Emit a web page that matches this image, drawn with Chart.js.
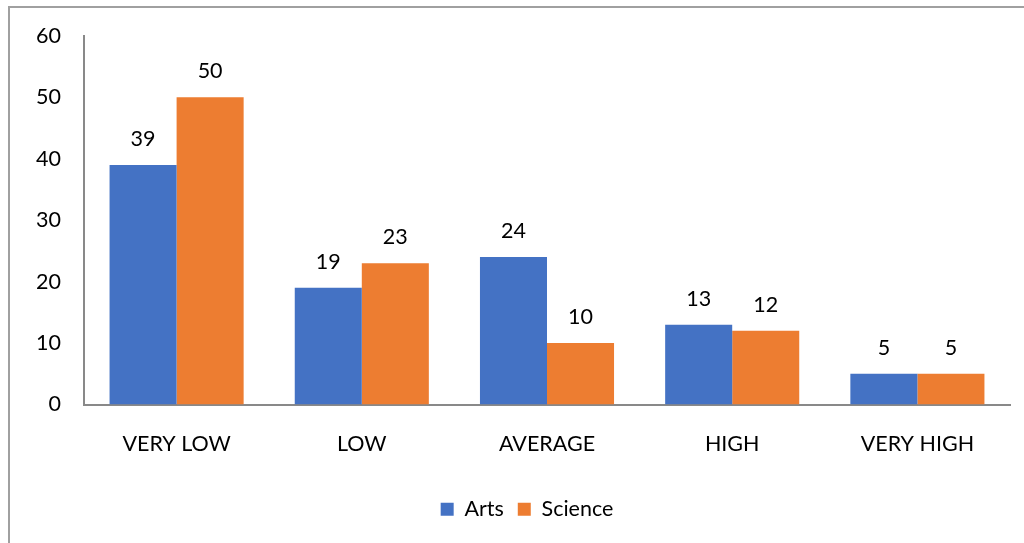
<!DOCTYPE html>
<html><head><meta charset="utf-8">
<script src="https://cdn.jsdelivr.net/npm/chart.js@4"></script>
<style>html,body{margin:0;padding:0;background:#fff}#wrap{width:1024px;height:543px;position:relative}</style>
</head><body><div id="wrap"><canvas id="c"></canvas></div>
<script>
const categories = ["VERY LOW", "LOW", "AVERAGE", "HIGH", "VERY HIGH"];
const artsValues = [39, 19, 24, 13, 5];
const scienceValues = [50, 23, 10, 12, 5];
const yTicks = [0, 10, 20, 30, 40, 50, 60];

const FONT = "Lato, 'Open Sans', sans-serif";
const FS = 21.5;

const frame = {
  id: 'frame',
  beforeDraw(chart) {
    const ctx = chart.ctx;
    ctx.save();
    ctx.fillStyle = '#fff';
    ctx.fillRect(0, 0, chart.width, chart.height);
    ctx.strokeStyle = '#a0a0a0';
    ctx.lineWidth = 2;
    ctx.beginPath();
    ctx.moveTo(9, chart.height);
    ctx.lineTo(9, 7);
    ctx.lineTo(chart.width, 7);
    ctx.stroke();
    ctx.restore();
  },
  afterLayout(chart) {
    // the original legend is centred on the plot region, slightly right of canvas centre
    if (chart.legend) { chart.legend.left += 12; chart.legend.right += 12; }
  }
};

const valueLabels = {
  id: 'valueLabels',
  afterDatasetsDraw(chart) {
    const ctx = chart.ctx;
    ctx.save();
    ctx.font = FS + "px " + FONT;
    ctx.fillStyle = '#000';
    ctx.textAlign = 'center';
    ctx.textBaseline = 'middle';
    chart.data.datasets.forEach((ds, i) => {
      chart.getDatasetMeta(i).data.forEach((bar, j) => {
        ctx.fillText(String(ds.data[j]), bar.x, bar.y - 26);
      });
    });
    ctx.restore();
  }
};

new Chart(document.getElementById('c'), {
  type: 'bar',
  data: {
    labels: categories,
    datasets: [
      { label: 'Arts', data: artsValues, backgroundColor: '#4472C4', categoryPercentage: 0.724, barPercentage: 1 },
      { label: 'Science', data: scienceValues, backgroundColor: '#ED7D31', categoryPercentage: 0.724, barPercentage: 1 }
    ]
  },
  options: {
    responsive: true,
    maintainAspectRatio: false,
    animation: false,
    devicePixelRatio: 1,
    layout: { padding: { left: 20, top: 34, right: 14, bottom: 13 } },
    plugins: {
      tooltip: { enabled: false },
      legend: {
        position: 'bottom',
        labels: { font: { family: FONT, size: FS }, color: '#000', boxWidth: 13, boxHeight: 13, padding: 14 }
      }
    },
    scales: {
      x: {
        grid: { display: false, drawTicks: false },
        border: { display: true, color: '#898989', width: 2 },
        ticks: { font: { family: FONT, size: FS }, color: '#000', padding: 27, maxRotation: 0 },
        afterFit(s) { s.height = 80; }
      },
      y: {
        min: 0, max: 60,
        grid: { display: false, drawTicks: false },
        border: { display: true, color: '#898989', width: 2 },
        afterBuildTicks(s) { s.ticks = yTicks.map(v => ({ value: v })); },
        ticks: { font: { family: FONT, size: FS }, color: '#000', padding: 23 },
        afterFit(s) { s.width = 64; }
      }
    }
  },
  plugins: [frame, valueLabels]
});
</script></body></html>
